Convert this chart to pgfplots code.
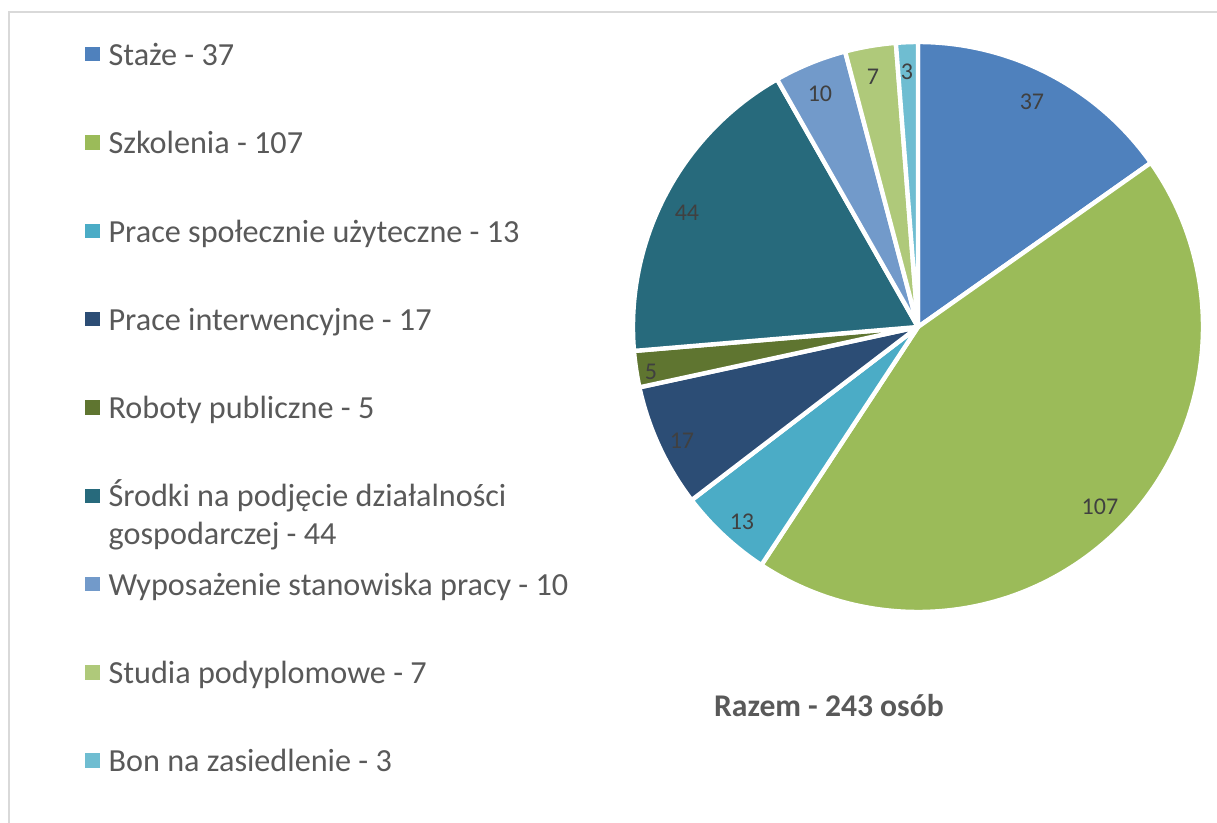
\documentclass[border=0pt]{standalone}
\usepackage{fontspec}
\setmainfont{Carlito}
\usepackage{pgfplots}
\pgfplotsset{compat=1.18}
\definecolor{cStaze}{HTML}{4F81BD}
\definecolor{cSzkol}{HTML}{9BBB59}
\definecolor{cPSU}{HTML}{4BACC6}
\definecolor{cPI}{HTML}{2C4D75}
\definecolor{cRP}{HTML}{5F7530}
\definecolor{cSrod}{HTML}{276A7C}
\definecolor{cWyp}{HTML}{729ACA}
\definecolor{cStud}{HTML}{AFC97A}
\definecolor{cBon}{HTML}{6FBDD1}
\definecolor{txtgray}{HTML}{595959}
\definecolor{lblgray}{HTML}{404040}
\definecolor{framegray}{HTML}{D9D9D9}
% slice: {cumulative start}{value}{colour}; total = 243, start at 12 o'clock, clockwise
\newcommand\pieslice[3]{%
  \filldraw[fill=#3, draw=white, line width=2.2bp, line join=round]
    (axis cs:918,496) -- ++({90-(#1)/243*360}:142.5bp)
    arc[start angle={90-(#1)/243*360}, end angle={90-(#1+#2)/243*360}, radius=142.5bp]
    -- cycle;}
\newcommand\slicelabel[3]{%
  \node[font=\fontsize{12bp}{14bp}\selectfont, text=lblgray, inner sep=0pt] at (axis cs:#1,#2) {#3};}
\begin{document}
\begin{tikzpicture}
\useasboundingbox (0,0) rectangle (608.5bp,411.5bp);
\begin{axis}[
  x=0.5bp, y=0.5bp,
  xmin=0, xmax=1217, ymin=0, ymax=823,
  hide axis, clip=false,
  legend style={at={(axis cs:85,816)}, anchor=north west,
    draw=none, fill=none, inner sep=0pt, row sep=0pt, column sep=0pt,
    font=\fontsize{16.1bp}{19bp}\selectfont, text=txtgray,
    cells={anchor=base west},
    nodes={inner xsep=4.4bp, inner ysep=0pt, text height=29bp, text depth=15.15bp}},
  legend image code/.code={\fill[#1, draw=none] (0bp,2bp) rectangle (7.2bp,9.2bp);},
]
\draw[framegray, line width=0.75bp] (axis cs:9,0) -- (axis cs:9,811) -- (axis cs:1217,811);

\pieslice{0}{37}{cStaze}
\pieslice{37}{107}{cSzkol}
\pieslice{144}{13}{cPSU}
\pieslice{157}{17}{cPI}
\pieslice{174}{5}{cRP}
\pieslice{179}{44}{cSrod}
\pieslice{223}{10}{cWyp}
\pieslice{233}{7}{cStud}
\pieslice{240}{3}{cBon}

\slicelabel{1032}{721}{37}
\slicelabel{1100}{316}{107}
\slicelabel{742}{301}{13}
\slicelabel{682}{382}{17}
\slicelabel{651}{451}{5}
\slicelabel{687}{610}{44}
\slicelabel{820}{729}{10}
\slicelabel{873}{746}{7}
\slicelabel{907}{751}{3}

\node[font=\fontsize{15.8bp}{18bp}\selectfont\bfseries, text=txtgray, anchor=base, inner sep=0pt]
  at (axis cs:829,107) {Razem - 243 osób};

\addlegendimage{fill=cStaze}\addlegendentry{Staże - 37}
\addlegendimage{fill=cSzkol}\addlegendentry{Szkolenia - 107}
\addlegendimage{fill=cPSU}\addlegendentry{Prace społecznie użyteczne - 13}
\addlegendimage{fill=cPI}\addlegendentry{Prace interwencyjne - 17}
\addlegendimage{fill=cRP}\addlegendentry{Roboty publiczne - 5}
\addlegendimage{fill=cSrod}\addlegendentry{\begin{tabular}[t]{@{}l@{}}Środki na podjęcie działalności\\gospodarczej - 44\end{tabular}}
\addlegendimage{fill=cWyp}\addlegendentry{Wyposażenie stanowiska pracy - 10}
\addlegendimage{fill=cStud}\addlegendentry{Studia podyplomowe - 7}
\addlegendimage{fill=cBon}\addlegendentry{Bon na zasiedlenie - 3}
\end{axis}
\end{tikzpicture}
\end{document}
